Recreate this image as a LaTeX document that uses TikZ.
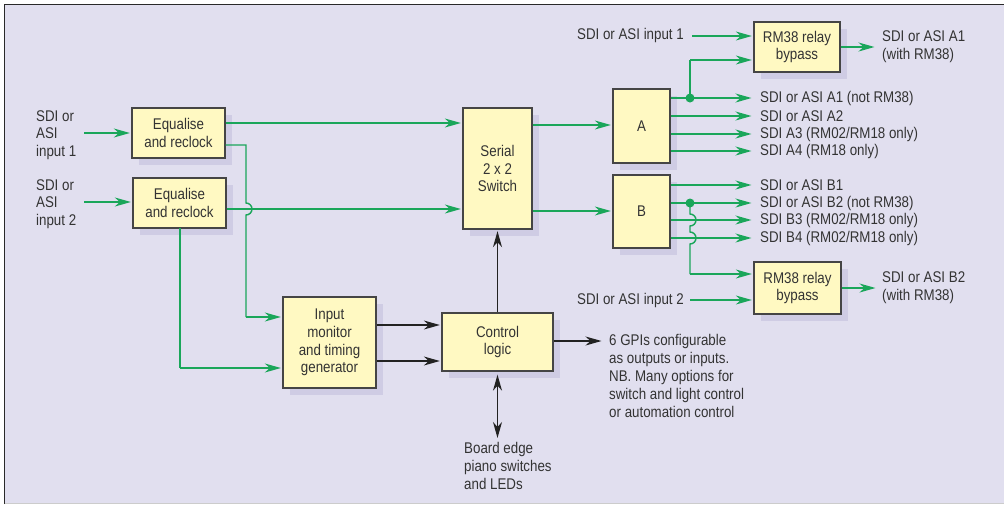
\documentclass[tikz,border=0pt]{standalone}
\usepackage{fontspec}
\setmainfont{Liberation Sans}[FakeStretch=0.86]
\usetikzlibrary{arrows.meta,shadows}
\definecolor{bg}{HTML}{E1DFEF}
\definecolor{boxc}{HTML}{FFF9C2}
\definecolor{shad}{HTML}{CFCCE4}
\definecolor{grn}{HTML}{1AA65A}
\definecolor{txt}{HTML}{333333}
\definecolor{bord}{HTML}{454545}
\definecolor{blkarrow}{HTML}{222222}
\tikzset{
  every node/.style={font=\fontsize{15.5}{17.8}\selectfont, text=txt},
  blk/.style={draw=bord, line width=1.3pt, fill=boxc, align=center, inner sep=0pt,
    drop shadow={fill=shad, opacity=1, shadow xshift=7pt, shadow yshift=-7pt}},
  lbl/.style={align=left, anchor=west, inner sep=0pt},
  olbl/.style={align=left, anchor=west, inner xsep=7pt, inner ysep=0pt},
  gl/.style={draw=grn, line width=1.4pt},
  ga/.style={gl, -{Stealth[length=16pt,width=9pt,inset=5pt]}, shorten >=1.5pt},
  ka/.style={draw=blkarrow, line width=1.3pt, -{Stealth[length=16pt,width=9pt,inset=5pt]}, shorten >=1.5pt},
  kb/.style={draw=blkarrow, line width=1.3pt, {Stealth[length=16pt,width=9pt,inset=5pt]}-{Stealth[length=16pt,width=9pt,inset=5pt]}},
  dotc/.style={fill=grn, draw=none}
}
\begin{document}
\begin{tikzpicture}[x=1pt,y=-1pt]
\useasboundingbox (0,0) rectangle (1004,504);
% frame
\fill[bg] (4.5,4.5) rectangle (1004,503.5);
\draw[draw=bord!60!black, line width=1.2pt] (4.5,504) -- (4.5,4.5) -- (1004,4.5);
\draw[draw=black!20, line width=1pt] (4.5,503.3) -- (1004,503.3);

% boxes
\node[blk, minimum width=93pt, minimum height=50pt] (eq1) at (178.5,133) {Equalise\\and reclock};
\node[blk, minimum width=93pt, minimum height=50pt] (eq2) at (179.5,203) {Equalise\\and reclock};
\node[blk, minimum width=69pt, minimum height=121pt] (sw) at (497.5,168.5) {Serial\\2 x 2\\Switch};
\node[blk, minimum width=57pt, minimum height=74pt] (A) at (641.5,126) {A};
\node[blk, minimum width=57pt, minimum height=73pt] (B) at (641.5,211.5) {B};
\node[blk, minimum width=86pt, minimum height=50pt] (rt) at (797,47) {RM38 relay\\bypass};
\node[blk, minimum width=87pt, minimum height=52pt] (rb) at (797.5,288) {RM38 relay\\bypass};
\node[blk, minimum width=93pt, minimum height=91pt] (mon) at (329.5,342.5) {Input\\monitor\\and timing\\generator};
\node[blk, minimum width=111pt, minimum height=58pt] (ctrl) at (497.5,342) {Control\\logic};

% left inputs
\node[lbl] (in1) at (36,135) {SDI or\\ASI\\input 1};
\node[lbl] (in2) at (36,204) {SDI or\\ASI\\input 2};
\coordinate (in1a) at (84,133);
\coordinate (in2a) at (84,202);
\draw[ga] (in1a) -- (eq1.west |- in1a);
\draw[ga] (in2a) -- (eq2.west |- in2a);

% eq outputs
\draw[ga] (eq1.east |- 0,123) -- (sw.west |- 0,123);
\draw[ga] (eq2.east |- 0,209) -- (sw.west |- 0,209);
\draw[gl] (eq1.east |- 0,145) -- (246,145) -- (246,203)
  arc[start angle=-90, end angle=90, radius=6] -- (246,317);
\draw[ga] (246,317) -- (mon.west |- 0,317);
\draw[gl] (180,228) -- (180,368);
\draw[ga] (180,368) -- (mon.west |- 0,368);

% monitor to control
\draw[ka] (mon.east |- 0,325) -- (ctrl.west |- 0,325);
\draw[ka] (mon.east |- 0,361) -- (ctrl.west |- 0,361);
% control to switch
\draw[ka] (ctrl.north) -- (sw.south);
% GPI
\node[lbl] (gpi) at (609,376) {6 GPIs configurable\\as outputs or inputs.\\NB. Many options for\\switch and light control\\or automation control};
\draw[ka] (ctrl.east |- 0,341) -- (603,341);
% board edge
\node[lbl] (board) at (464,466) {Board edge\\piano switches\\and LEDs};
\draw[kb] ([yshift=-3pt]ctrl.south) -- (ctrl.south |- 0,438);

% switch to A/B
\draw[ga] (sw.east |- 0,125) -- (A.west |- 0,125);
\draw[ga] (sw.east |- 0,211) -- (B.west |- 0,211);

% A outputs
\node[olbl] (a1) at (753,98) {SDI or ASI A1 (not RM38)};
\node[olbl] (a2) at (753,116) {SDI or ASI A2};
\node[olbl] (a3) at (753,134) {SDI A3 (RM02/RM18 only)};
\node[olbl] (a4) at (753,151) {SDI A4 (RM18 only)};
\draw[ga] (A.east |- a1) -- (a1.west);
\draw[ga] (A.east |- a2) -- (a2.west);
\draw[ga] (A.east |- a3) -- (a3.west);
\draw[ga] (A.east |- a4) -- (a4.west);
\coordinate (da) at (690,98);
\fill[dotc] (da) circle[radius=4.5];
\draw[gl] (da) -- (690,60);
\draw[ga] (690,60) -- (rt.west |- 0,60);
\node[lbl, anchor=east] (ti1) at (684,35) {SDI or ASI input 1};
\draw[ga] (692,36) -- (rt.west |- 0,36);
\node[lbl] (ta1) at (882,47) {SDI or ASI A1\\(with RM38)};
\draw[ga] (rt.east |- 0,47) -- (876,47);

% B outputs
\node[olbl] (b1) at (753,185) {SDI or ASI B1};
\node[olbl] (b2) at (753,203) {SDI or ASI B2 (not RM38)};
\node[olbl] (b3) at (753,220) {SDI B3 (RM02/RM18 only)};
\node[olbl] (b4) at (753,238) {SDI B4 (RM02/RM18 only)};
\draw[ga] (B.east |- b1) -- (b1.west);
\draw[ga] (B.east |- b2) -- (b2.west);
\draw[ga] (B.east |- b3) -- (b3.west);
\draw[ga] (B.east |- b4) -- (b4.west);
\coordinate (db) at (690,203);
\draw[gl] (db) -- (690,214) arc[start angle=-90, end angle=90, radius=6]
  -- (690,232) arc[start angle=-90, end angle=90, radius=6] -- (690,274);
\fill[dotc] (db) circle[radius=4.5];
\draw[ga] (690,274) -- (rb.west |- 0,274);
\node[lbl, anchor=east] (ti2) at (684,300) {SDI or ASI input 2};
\draw[ga] (690,300) -- (rb.west |- 0,300);
\node[lbl] (tb2) at (882,288) {SDI or ASI B2\\(with RM38)};
\draw[ga] (rb.east |- 0,288) -- (877,288);
\end{tikzpicture}
\end{document}
